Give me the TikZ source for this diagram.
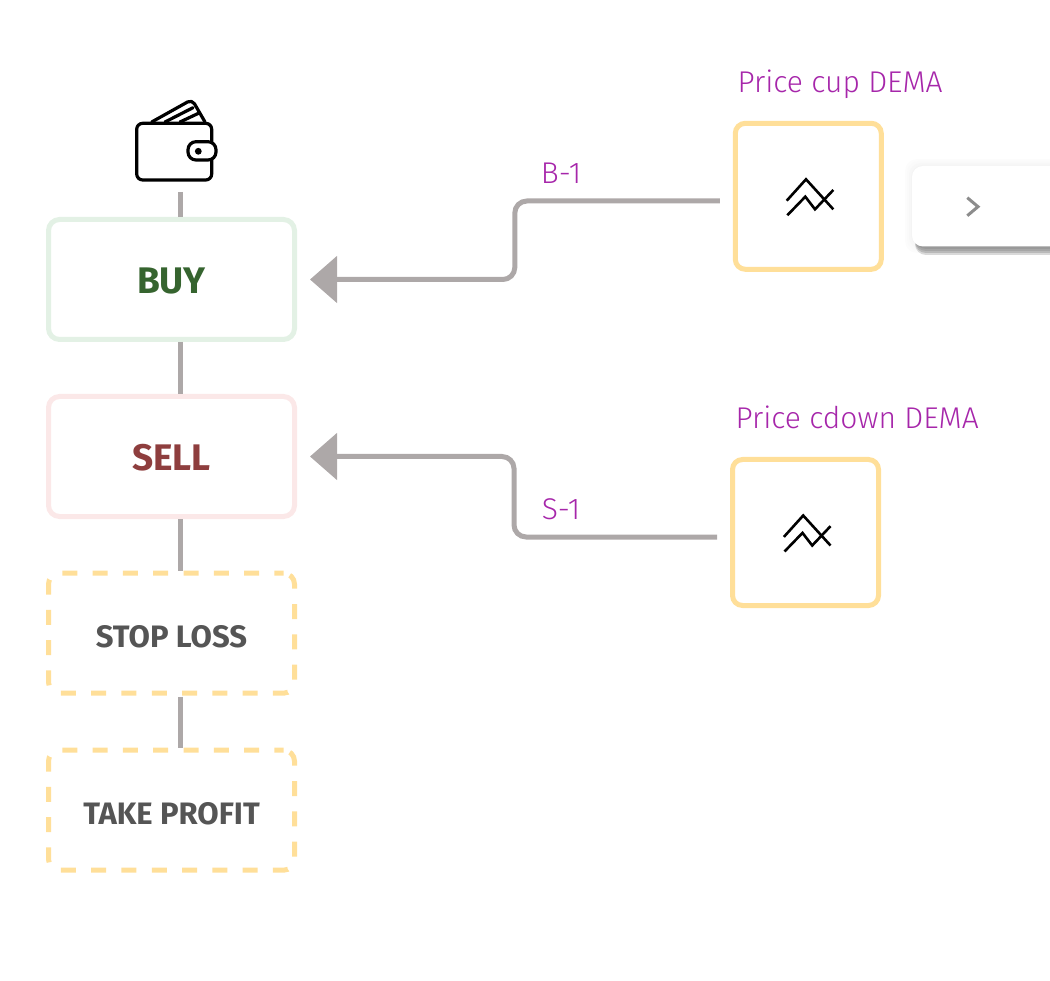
\documentclass[tikz,border=0pt]{standalone}
\usepackage{fontspec}
\setmainfont{Fira Sans}
\newfontfamily\lightfont{Fira Sans Light}
\usetikzlibrary{arrows.meta, positioning, calc}
\definecolor{stemgray}{HTML}{ADA8A8}
\definecolor{boxyellow}{HTML}{FFDF99}
\definecolor{buyborder}{HTML}{E3F1E5}
\definecolor{buytext}{HTML}{36642F}
\definecolor{sellborder}{HTML}{FBE8E8}
\definecolor{selltext}{HTML}{8E3E3E}
\definecolor{darktext}{HTML}{555555}
\definecolor{indtext}{HTML}{A626AA}

\begin{document}
\begin{tikzpicture}[
    x=1pt, y=-1pt,
    order/.style={rectangle, draw, line width=5pt, rounded corners=11pt, fill=white, minimum width=246pt, minimum height=120pt, text height=28.6pt, text depth=0pt, font=\fontsize{37}{40}\bfseries\selectfont},
    bracket/.style={order, draw=boxyellow, dash pattern=on 15pt off 15.3pt, dash phase=5.9pt, text=darktext, font=\fontsize{31}{36}\bfseries\selectfont},
    indicator/.style={rectangle, draw=boxyellow, line width=5pt, rounded corners=10pt, fill=white, minimum width=146pt, minimum height=146pt},
    stem/.style={draw=stemgray, line width=5pt},
    arrow/.style={-{Triangle[length=27pt, width=46pt]}, draw=stemgray, line width=5pt, rounded corners=12pt, shorten <=13pt, shorten >=13pt},
    title/.style={text=indtext, anchor=base west, font=\lightfont\fontsize{30}{34}\selectfont},
    signal/.style={text=indtext, font=\lightfont\fontsize{30}{34}\selectfont},
    trend/.pic={
        \draw[line width=2.6pt] (-21.6,4.4) -- (-2.3,-17) -- (25,13);
        \draw[line width=2.6pt] (-21,19) -- (-3,0.4) -- (6.7,13) -- (25,-6.3);
    }
]
\useasboundingbox (0,0) rectangle (1050,981);

\foreach \spread/\shade in {7/2,5/4,3/6,1/9}
    \fill[gray!\shade, rounded corners=12pt] (1070,166-\spread) -- (912-\spread,166-\spread) -- (912-\spread,246+\spread) -- (1070,246+\spread) -- cycle;
\foreach \low/\shade in {255/30,253/55,251/70,249/80}
    \fill[gray!\shade, rounded corners=11pt] (1070,200) -- (915,200) -- (915,\low) -- (1070,\low) -- cycle;
\fill[white, rounded corners=11pt] (1070,166) -- (912,166) -- (912,246.5) -- (1070,246.5) -- cycle;
\draw[gray!90, line width=3pt] (967.3,197.7) -- (978,206.7) -- (967.3,215.7);

\node[order, draw=buyborder, text=buytext] (buy) at (171.5,279.5) {BUY};
\node[order, draw=sellborder, text=selltext] (sell) at (171.5,456.5) {SELL};
\node[bracket] (stoploss) at (171.5,633.2) {STOP LOSS};
\node[bracket] (takeprofit) at (171.5,810.2) {TAKE PROFIT};
\node[indicator] (cup) at (808.3,196.3) {};
\node[indicator] (cdown) at (805.5,532.5) {};
\pic at (cup) {trend};
\pic at (cdown) {trend};

\node[title] (cuptitle) at (734,93) {Price cup DEMA};
\node[title] (cdowntitle) at (732,429) {Price cdown DEMA};
\node[signal] (buysignal) at (561,173) {B-1};
\node[signal] (sellsignal) at (561,509) {S-1};

\coordinate (wallet) at (180,192);
\begin{scope}[line width=3.2pt, line join=round, line cap=round]
\draw[rounded corners=5pt] (151.7,122) -- (192,99.5) -- (205,122);
\draw (165,122) -- (193,107.7);
\draw (180,122) -- (198.5,113.3);
\draw[fill=white, rounded corners=6pt] (136.7,123.3) rectangle (211.7,180);
\draw[fill=white, rounded corners=8pt] (188,141.7) rectangle (216,160);
\fill (198.3,151.3) circle (3.4);
\end{scope}

\draw[stem] (wallet) -- ([xshift=8.5pt]buy.north);
\draw[stem] ([xshift=8.5pt]buy.south) -- ([xshift=8.5pt]sell.north);
\draw[stem] ([xshift=8.5pt]sell.south) -- ([xshift=8.5pt]stoploss.north);
\draw[stem] ([xshift=8.5pt, yshift=-1pt]stoploss.south) -- ([xshift=8.5pt]takeprofit.north);
\draw[arrow] ([yshift=-4.7pt]cup.west) -- ++(-218,0) |- (buy.east);
\draw[arrow] ([yshift=-4.5pt]cdown.west) -- ++(-216,0) |- (sell.east);
\end{tikzpicture}
\end{document}
